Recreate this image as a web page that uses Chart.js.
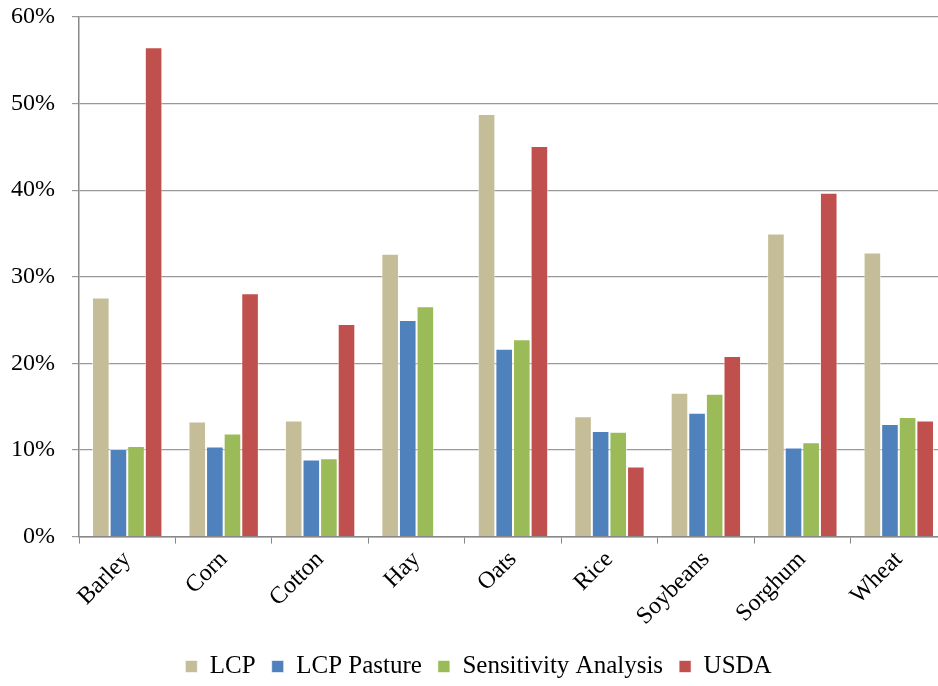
<!DOCTYPE html>
<html>
<head>
<meta charset="utf-8">
<script src="https://cdn.jsdelivr.net/npm/chart.js@4.4.1/dist/chart.umd.min.js"></script>
<style>
  html, body { margin: 0; padding: 0; background: #fff; overflow: hidden; }
  #wrap { width: 947px; height: 686px; }
</style>
</head>
<body>
<div id="wrap"><canvas id="cropChart"></canvas></div>
<script>
// crops on the x axis
const crops = ['Barley', 'Corn', 'Cotton', 'Hay', 'Oats', 'Rice', 'Soybeans', 'Sorghum', 'Wheat'];

// percentages per crop, one array per series
const lcp = [27.6, 13.3, 13.4, 32.65, 48.8, 13.9, 16.6, 35.0, 32.8];
const lcpPasture = [10.1, 10.4, 8.9, 25.0, 21.7, 12.2, 14.3, 10.3, 13.0];
const sensitivity = [10.45, 11.9, 9.05, 26.6, 22.8, 12.1, 16.5, 10.9, 13.8];
const usda = [56.5, 28.1, 24.55, null, 45.1, 8.1, 20.85, 39.7, 13.4];

const yTicks = [0, 10, 20, 30, 40, 50, 60];

const serif = "'Liberation Serif', 'Times New Roman', serif";

function series(label, data, color) {
    return {
        label: label,
        data: data,
        backgroundColor: color,
        borderColor: 'rgba(255,255,255,0.6)',
        borderWidth: 1,
        borderSkipped: 'bottom',
        categoryPercentage: 0.73,
        barPercentage: 1.0
    };
}

const ctx = document.getElementById('cropChart');

new Chart(ctx, {
    type: 'bar',
    data: {
        labels: crops,
        datasets: [
            series('LCP', lcp, '#C4BD97'),
            series('LCP Pasture', lcpPasture, '#4F81BD'),
            series('Sensitivity Analysis', sensitivity, '#9BBB59'),
            series('USDA', usda, '#C0504D')
        ]
    },
    options: {
        responsive: true,
        maintainAspectRatio: false,
        animation: false,
        // negative bottom pulls part of the legend's lower padding off the canvas
        layout: { padding: { top: 17, left: 10, right: 0, bottom: -3 } },
        scales: {
            x: {
                // rotated labels fit under the plot, no side overhang needed
                afterFit: (s) => { s.paddingLeft = 0; s.paddingRight = 0; s.height += 5; },
                grid: {
                    drawOnChartArea: false,
                    drawTicks: true,
                    tickLength: 7,
                    color: '#888'
                },
                border: { color: '#888', width: 1.5 },
                ticks: {
                    color: '#000',
                    font: { family: serif, size: 24 },
                    minRotation: 45,
                    maxRotation: 45,
                    padding: 2
                }
            },
            y: {
                min: 0,
                max: 60,
                afterFit: (s) => { s.paddingTop = 0; s.paddingBottom = 0; s.width = 69; },
                afterBuildTicks: (axis) => { axis.ticks = yTicks.map(v => ({ value: v })); },
                grid: { color: '#999', lineWidth: 1.2, tickLength: 7 },
                border: { color: '#888', width: 1.5 },
                ticks: {
                    color: '#000',
                    font: { family: serif, size: 24 },
                    padding: 17,
                    callback: (v) => v + '%'
                }
            }
        },
        plugins: {
            legend: {
                position: 'bottom',
                labels: {
                    color: '#000',
                    font: { family: serif, size: 25 },
                    boxWidth: 12,
                    boxHeight: 12,
                    padding: 16
                }
            },
            tooltip: { enabled: false }
        }
    }
});
</script>
</body>
</html>
